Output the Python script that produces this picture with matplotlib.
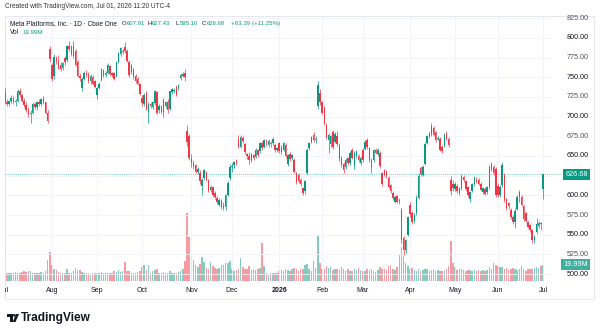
import matplotlib
matplotlib.use('Agg')
import matplotlib.pyplot as plt
import matplotlib.patches as mpatches
from matplotlib.lines import Line2D
from matplotlib.transforms import Bbox, blended_transform_factory
import numpy as np
import pandas as pd

plt.rcParams['font.family'] = ['Liberation Sans', 'DejaVu Sans']

# daily candles (open, high, low, close)
jul = [(730,737,716,719),(719,722,713,716),(716,721,714,720),(720,727,717,724),(724,726,716,718),
       (718,722,714,720),(720,735,719,733),(733,736,725,727),(727,729,718,720),(720,724,712,715),
       (715,718,706,708),(708,712,700,703),(703,709,692,705),(705,718,703,716),(716,719,710,712),
       (712,720,709,718),(718,722,714,716),(716,724,714,722),(722,726,716,718),(718,719,703,705),
       (705,708,692,695),(786,790,770,773)]
aug = [(765,768,745,748),(752,779,748,776),(774,777,767,771),(771,778,760,762),(766,769,758,761),
       (762,770,759,768),(774,777,766,769),(772,791,770,790),(790,796,784,786),(789,791,777,779),
       (777,796,775,790),(783,786,764,766),(770,772,750,752),(752,756,745,749),(737,750,732,748),
       (748,758,746,756),(756,759,750,753),(754,757,743,745),(745,754,742,752),(751,753,740,742),
       (745,747,736,738)]
sep = [(727,738,723,736),(737,744,735,741),(747,762,745,761),(759,761,750,752),(753,758,750,756),
       (756,768,754,766),(764,766,752,754),(755,757,751,753),(755,757,746,748),(752,771,750,770),
       (770,782,768,781),(780,789,777,787),(782,786,779,784),(789,795,781,783),(784,786,769,771),
       (770,772,751,753),(757,767,754,766),(760,762,748,750),(752,754,743,745),(748,750,740,742),
       (741,743,727,729)]
oct_ = [(724,728,714,717),(716,730,714,728),(730,733,708,710),(706,718,692,716),(716,719,711,714),
        (712,720,710,718),(717,734,715,732),(731,733,703,705),(708,716,705,714),(713,715,704,706),
        (706,724,700,721),(714,720,711,718),(718,722,705,708),(710,733,708,732),(731,737,729,735),
        (733,736,730,734),(738,740,726,728),(736,742,734,740),(749,755,747,753),(752,757,750,754),
        (755,760,745,750),(682,690,663,668),(676,678,645,648)]
nov = [(648,652,636,641),(641,645,634,637),(638,640,628,630),(630,636,627,633),(628,632,615,618),
       (612,622,601,620),(622,634,619,632),(630,631,618,620),(619,621,604,606),(607,613,604,610),
       (610,611,598,600),(603,605,595,598),(597,599,589,591),(588,596,586,594),(593,595,583,585),
       (587,592,582,584),(585,602,582,600),(601,618,599,616),(622,640,620,636)]
dec = [(636,641,630,637),(638,644,635,642),(644,646,638,641),(672,677,660,662),(662,677,660,674),
       (673,676,666,669),(665,667,653,655),(652,654,646,650),(650,655,640,645),(645,654,643,652),
       (651,653,645,648),(649,660,647,658),(657,659,649,651),(656,668,654,666),(667,669,657,660),
       (662,672,660,670),(668,671,663,666),(664,671,662,669),(667,669,662,665),(666,674,664,672),
       (664,666,655,657),(657,662,655,660)]
jan = [(666,668,654,656),(655,664,653,662),(658,668,656,666),(664,666,648,650),(640,653,637,651),
       (652,655,644,646),(647,653,645,651),(645,647,628,630),(628,630,615,617),(626,628,616,618),
       (620,622,612,614),(609,611,601,603),(605,620,602,618),(628,660,627,658),(660,668,658,666),
       (668,676,666,674),(677,680,668,670),(670,675,667,672),(713,745,710,740),(730,735,715,718)]
feb = [(718,720,703,705),(711,713,690,692),(690,692,671,673),(670,679,654,677),(665,677,662,675),
       (680,683,659,661),(668,680,666,678),(676,682,663,665),(664,666,644,646),(648,650,636,638),
       (640,643,628,632),(636,647,634,645),(647,649,639,641),(641,656,639,654),(658,660,646,648),
       (637,656,633,654),(650,658,648,656),(650,652,643,645),(641,650,639,648)]
mar = [(657,660,643,645),(659,670,657,668),(670,673,659,661),(660,662,643,645),(645,647,628,636),
       (645,659,643,657),(657,660,652,654),(652,660,650,658),(654,656,635,637),(628,630,612,614),
       (632,634,624,626),(630,632,622,624),(622,624,609,611),(613,615,603,605),(603,605,594,596),
       (592,600,590,598),(599,601,590,592),(594,596,589,591),(582,584,540,543),(546,548,524,530),
       (530,545,527,543),(550,574,548,572)]
apr = [(588,592,572,576),(578,580,564,566),(568,577,565,575),(578,600,575,596),(597,628,595,625),
       (635,637,625,627),(626,638,624,636),(640,668,638,665),(667,677,665,675),(675,681,673,679),
       (678,692,676,688),(686,688,675,677),(680,682,668,670),(672,676,670,673),(672,674,656,658),
       (662,664,654,656),(663,679,661,677),(679,682,670,672),(672,674,662,664),(619,625,600,605),
       (614,620,606,609)]
may = [(608,617,606,615),(612,614,603,605),(609,611,601,603),(609,627,607,625),(623,626,617,619),
       (618,620,606,608),(610,612,598,600),(595,606,591,604),(606,616,604,614),(614,624,612,622),
       (620,623,616,618),(620,622,613,615),(615,617,605,607),(604,611,602,609),(608,610,600,602),
       (604,612,602,610),(610,638,608,636),(640,643,631,633),(636,638,626,628),(634,636,598,600)]
jun = [(612,616,598,600),(600,613,598,611),(613,643,610,638),(626,628,592,594),(595,597,582,584),
       (590,592,583,586),(582,584,570,572),(573,575,564,566),(566,584,558,580),(583,600,581,598),
       (598,607,592,604),(598,600,586,588),(586,588,568,570),(577,579,566,568),(566,568,558,560),
       (562,564,554,556),(556,557,540,543),(543,549,540,547),(553,571,551,564),(561,568,559,565),
       (565,566,556,563.29)]
jul26 = [(607.91,627.43,595.10,626.68)]

# volume in millions
vol_jul = [12,10,9,10,9,11,10,9,11,12,11,12,12,10,9,10,9,11,9,12,26,36]
vol_aug = [19,15,13,11,10,9,9,14,10,10,12,16,13,13,11,10,9,9,8,9,9]
vol_sep = [9,10,11,9,9,10,9,10,12,11,13,11,12,23,12,12,10,10,10,11,12]
vol_oct = [17,20,13,20,10,12,13,14,10,10,11,10,10,12,10,9,10,11,12,14,25,84,55]
vol_nov = [31,26,20,17,21,29,23,16,14,23,18,16,14,16,20,19,22,22,25]
vol_dec = [14,12,13,15,28,17,14,14,18,13,15,13,14,16,47,18,10,8,9,9,10,10]
vol_jan = [12,13,12,14,13,12,14,16,15,12,15,14,20,21,15,12,24,16,56,22]
vol_feb = [15,14,18,16,17,13,15,14,13,17,14,12,14,12,12,14,13,16,13]
vol_mar = [12,12,14,13,15,12,11,13,17,15,14,13,18,20,14,13,17,33,42,31,22,18]
vol_apr = [14,16,13,12,14,12,13,15,14,12,13,14,12,13,12,12,12,14,18,50,22]
vol_may = [17,13,15,14,13,12,13,13,12,13,12,13,12,13,12,13,17,14,22,20]
vol_jun = [18,17,17,15,16,13,14,16,15,13,14,18,14,12,14,15,15,16,17,16,18]
vol_jul26 = [19.99]

holidays = ['2025-07-04','2025-09-01','2025-11-27','2025-12-25','2026-01-01',
            '2026-01-19','2026-02-16','2026-04-03','2026-05-25','2026-06-19']
month_names = ['Jan','Feb','Mar','Apr','May','Jun','Jul','Aug','Sep','Oct','Nov','Dec']
price_ticks = list(range(500, 826, 25))

candles = np.array(jul+aug+sep+oct_+nov+dec+jan+feb+mar+apr+may+jun+jul26, dtype=float)
o, h, l, c = candles.T
vol = np.array(vol_jul+vol_aug+vol_sep+vol_oct+vol_nov+vol_dec+vol_jan+vol_feb+vol_mar+vol_apr+vol_may+vol_jun+vol_jul26, dtype=float)
x = np.arange(len(c))

days = pd.bdate_range('2025-07-01', '2026-07-01')
days = days[~days.isin(pd.to_datetime(holidays))][:len(c)]
tick_idx = [i for i in range(len(days)) if i == 0 or days[i].month != days[i-1].month]
tick_lab = [str(days[i].year) if days[i].month == 1 else month_names[days[i].month-1] for i in tick_idx]

UP, DOWN = '#089981', '#f23645'
up = c >= o
col = np.where(up, UP, DOWN)
vcol = np.where(up, '#84ccc0', '#f89aa2')

W, H = 600, 328
fx = lambda px: px / W
fy = lambda py: 1 - py / H

fig = plt.figure(figsize=(6, 3.28), dpi=100)
fig.patch.set_facecolor('white')
rect = [fx(5), fy(283), (552-5)/W, (283-16)/H]
xl = ((5-4.8)/2.144, (552-4.8)/2.144)

vax = fig.add_axes(rect, zorder=0)
vax.set_xlim(xl); vax.set_ylim(-3.1, 330.7); vax.axis('off')
ax = fig.add_axes(rect, zorder=1)
ax.set_xlim(xl); ax.set_ylim(488.6, 827.9); ax.axis('off')

# grid
for p in price_ticks:
    vax.plot(xl, [p, p], transform=ax.transData, color='#f0f3fa', lw=0.6)
for i in tick_idx:
    vax.axvline(i, color='#f0f3fa', lw=0.6)

# volume
vax.bar(x, vol, width=0.7, color=vcol, linewidth=0)

# candles
ax.vlines(x, l, h, colors=col, lw=0.5)
ax.bar(x, np.maximum(np.abs(c-o), 0.8), bottom=np.minimum(o, c), width=0.7, color=col, linewidth=0)

# last price line
ax.axhline(c[-1], color='#089981', lw=0.6, ls=(0, (1, 1.5)), alpha=0.7)
yl = ax.transData.transform((0, c[-1]))[1] / (H)
fig.add_artist(Line2D([fx(552), fx(563)], [yl, yl], color='#089981', lw=0.6, ls=(0, (1, 1.5)), alpha=0.7))

# price scale
tr = blended_transform_factory(fig.transFigure, ax.transData)
for p in price_ticks:
    ax.text(fx(589), p, f'{p:.2f}', transform=tr, ha='right', va='center', fontsize=5.2,
            color='#131722' if p % 50 == 0 else '#50535e', clip_on=False)
ax.text(fx(588), c[-1], f'{c[-1]:.2f}', transform=tr, ha='right', va='center', fontsize=5.2,
        color='white', clip_on=False,
        bbox=dict(boxstyle='square,pad=0.3', fc=UP, ec='none'))
trv = blended_transform_factory(fig.transFigure, vax.transData)
vax.text(fx(588), vol[-1], f'{vol[-1]:.2f}M', transform=trv, ha='right', va='center', fontsize=5.2,
         color='white', clip_on=False,
         bbox=dict(boxstyle='square,pad=0.3', fc='#3fae9c', ec='none'))

# time scale
trx = blended_transform_factory(ax.transData, fig.transFigure)
clip = Bbox.from_extents(5, 0, W, H)
for i, lab in zip(tick_idx, tick_lab):
    t = ax.text(i, fy(291), lab, transform=trx, ha='center', va='center', fontsize=5,
                color='#131722', fontweight='bold' if lab.isdigit() else 'normal')
    t.set_clip_on(True)
    t.set_clip_box(clip)

# frame
fig.add_artist(mpatches.Rectangle((fx(5), fy(299)), (594-5)/W, (299-16)/H, transform=fig.transFigure,
                                  fill=False, ec='#e0e3eb', lw=0.6))

# header
fig.text(fx(5), fy(7), 'Created with TradingView.com, Jul 01, 2026 11:20 UTC-4', fontsize=4.7,
         color='#333333', va='center', ha='left')
fig.text(fx(10), fy(23.5), 'Meta Platforms, Inc. · 1D · Cboe One', fontsize=4.7, color='#131722', va='center')
for xp, k, v, w in [(121.7, 'O', '607.91', 4.7), (147.7, 'H', '627.43', 4.4),
                    (176, 'L', '595.10', 3.5), (202, 'C', '626.68', 4.4)]:
    fig.text(fx(xp), fy(23.5), k, fontsize=4.3, color='#131722', va='center')
    fig.text(fx(xp + w), fy(23.5), v, fontsize=4.3, color=UP, va='center')
fig.text(fx(231), fy(23.5), '+63.39 (+11.25%)', fontsize=4.4, color=UP, va='center')
fig.text(fx(10), fy(32.5), 'Vol', fontsize=4.7, color='#131722', va='center')
fig.text(fx(22.7), fy(32.5), '19.99M', fontsize=4.5, color=UP, va='center')

# TradingView logo
k = '#131722'
fig.add_artist(mpatches.Rectangle((fx(7), fy(316.5)), 5.5/W, 2.5/H, transform=fig.transFigure, fc=k, ec='none'))
fig.add_artist(mpatches.Rectangle((fx(10), fy(322)), 2.5/W, 8/H, transform=fig.transFigure, fc=k, ec='none'))
fig.add_artist(mpatches.Ellipse((fx(14.3), fy(315.3)), 2.6/W, 2.6/H, transform=fig.transFigure, fc=k, ec='none'))
fig.add_artist(mpatches.Polygon([(fx(16), fy(314)), (fx(19), fy(314)), (fx(15.5), fy(322)), (fx(12.8), fy(322))],
                                transform=fig.transFigure, fc=k, ec='none'))
fig.text(fx(21), fy(318), 'TradingView', fontsize=8.6, fontweight='bold', color=k, va='center', ha='left')

fig.savefig('out.png', dpi=100)
